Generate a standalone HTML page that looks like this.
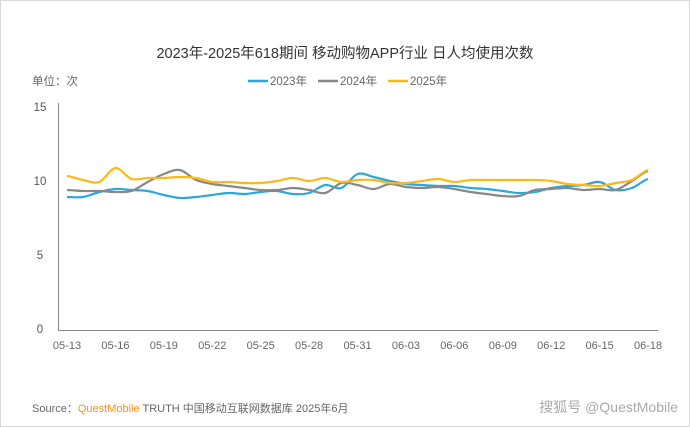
<!DOCTYPE html>
<html><head><meta charset="utf-8"><style>
html,body{margin:0;padding:0;background:#fff;}
body{width:690px;height:427px;overflow:hidden;position:relative;font-family:"Liberation Sans","Noto Sans CJK SC",sans-serif;}
.frame{position:absolute;left:0;top:0;width:688px;height:425px;border:1px solid #d8d8d8;}
</style></head><body>
<div class="frame"></div>
<svg width="690" height="427" style="position:absolute;left:0;top:0" font-family="Liberation Sans, Noto Sans CJK SC, sans-serif">
<text x="345" y="58" text-anchor="middle" font-size="14.5" fill="#333">2023年-2025年618期间 移动购物APP行业 日人均使用次数</text>
<text x="32" y="85" font-size="11.5" fill="#666">单位：次</text>
<line x1="248" y1="81" x2="268" y2="81" stroke="#29a8e0" stroke-width="2.5"/>
<text x="270" y="85" font-size="11.5" fill="#666">2023年</text>
<line x1="318" y1="81" x2="338" y2="81" stroke="#888" stroke-width="2.5"/>
<text x="340" y="85" font-size="11.5" fill="#666">2024年</text>
<line x1="388" y1="81" x2="408" y2="81" stroke="#fdb913" stroke-width="2.5"/>
<text x="410" y="85" font-size="11.5" fill="#666">2025年</text>
<g font-size="11.5" fill="#555" text-anchor="middle">
<text x="40" y="111">15</text><text x="40" y="185">10</text><text x="40" y="259">5</text><text x="40" y="333">0</text>
</g>
<line x1="58.5" y1="103" x2="58.5" y2="330" stroke="#888" stroke-width="1"/>
<line x1="58" y1="330.5" x2="658" y2="330.5" stroke="#888" stroke-width="1"/>
<g id="xl" font-size="11" fill="#666" text-anchor="middle"></g>
<g id="lines" fill="none" stroke-width="2.2"></g>
<text x="32" y="412" font-size="11" fill="#666">Source：<tspan fill="#f7931e">QuestMobile</tspan> TRUTH 中国移动互联网数据库 2025年6月</text>
<text x="678" y="412" text-anchor="end" font-size="14" fill="#aaa">搜狐号 @QuestMobile</text>
</svg>
<script>
var labels=["05-13","05-16","05-19","05-22","05-25","05-28","05-31","06-03","06-06","06-09","06-12","06-15","06-18"];
var xl=document.getElementById('xl');var s='';
function X(i){return 67+16.14*i;}
labels.forEach(function(l,k){s+='<text x="'+X(k*3)+'" y="349">'+l+'</text>';});
xl.innerHTML=s;
var y25=[176,180,182,168,179,178,178,177,178,182,182,183,183,181,178,181,178,182,180,180,183,183,181,179,182,180,180,180,180,180,181,184,185,186,183,180,170];
var y23=[197,197,192,189,190,191,195,198,197,195,193,194,192,191,194,193,185,188,174,177,181,184,185,186,186,188,189,191,193,192,188,186,185,182,190,188,179];
var y24=[190,191,191,192,191,182,174,170,180,184,186,188,190,190,188,190,193,183,185,189,184,187,188,187,189,192,194,196,196,190,189,188,190,189,190,181,171];
function path(ys){var p='M'+X(0)+','+ys[0];for(var i=0;i<ys.length-1;i++){var y0=ys[Math.max(0,i-1)],y1=ys[i],y2=ys[i+1],y3=ys[Math.min(ys.length-1,i+2)];var x1=X(i),x2=X(i+1),d=16.14;p+=' C'+(x1+d/3)+','+(y1+(y2-y0)/6)+' '+(x2-d/3)+','+(y2-(y3-y1)/6)+' '+x2+','+y2;}return p;}
document.getElementById('lines').innerHTML='<path d="'+path(y23)+'" stroke="#29a8e0"/><path d="'+path(y24)+'" stroke="#888"/><path d="'+path(y25)+'" stroke="#fdb913"/>';
</script>
</body></html>
